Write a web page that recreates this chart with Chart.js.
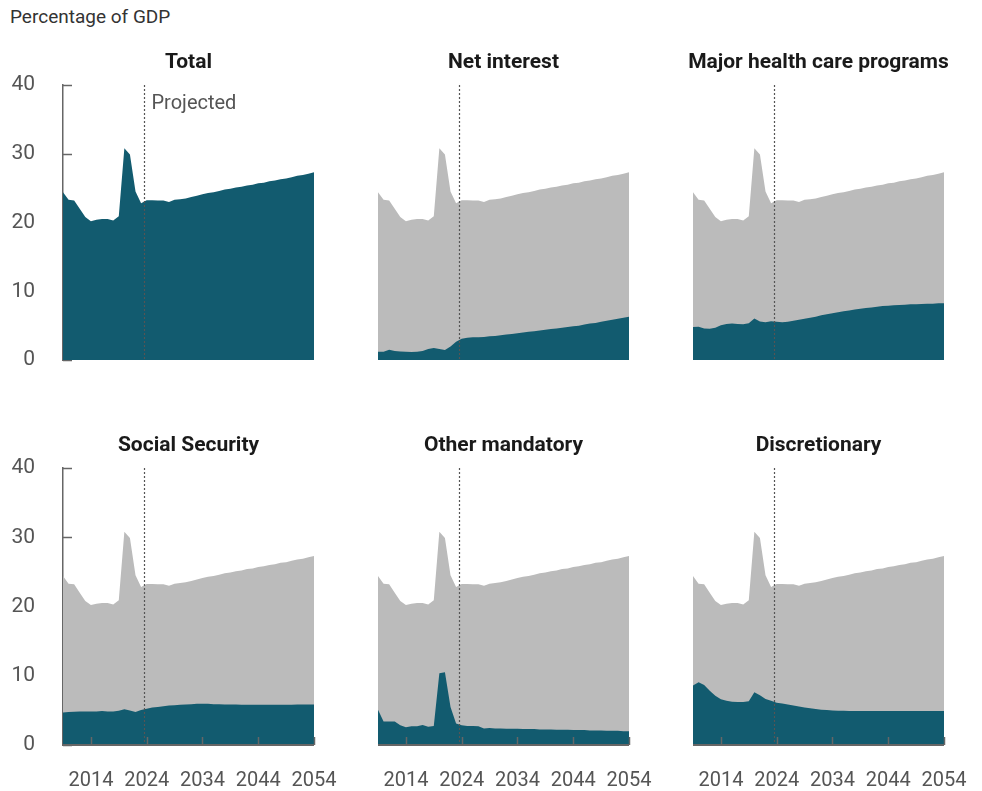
<!DOCTYPE html>
<html>
<head>
<meta charset="utf-8">
<script src="https://cdn.jsdelivr.net/npm/chart.js@4.4.1/dist/chart.umd.min.js"></script>
<style>
  html, body { margin: 0; padding: 0; background: #fff; }
  body { width: 982px; height: 791px; position: relative; overflow: hidden; }
  #unit { position: absolute; left: 10px; top: 5px; font: 19px Roboto, sans-serif; color: #333; }
  canvas { position: absolute; }
</style>
</head>
<body>
<div id="unit">Percentage of GDP</div>
<canvas id="c1"></canvas>
<canvas id="c2"></canvas>
<canvas id="c3"></canvas>
<canvas id="c4"></canvas>
<canvas id="c5"></canvas>
<canvas id="c6"></canvas>
<script>
// ----- data: outlays, percentage of GDP, 2009-2054 -----
const years = [2009, 2010, 2011, 2012, 2013, 2014, 2015, 2016, 2017, 2018,
  2019, 2020, 2021, 2022, 2023, 2024, 2025, 2026, 2027, 2028,
  2029, 2030, 2031, 2032, 2033, 2034, 2035, 2036, 2037, 2038,
  2039, 2040, 2041, 2042, 2043, 2044, 2045, 2046, 2047, 2048,
  2049, 2050, 2051, 2052, 2053, 2054];

const total = [24.4, 23.3, 23.2, 22.0, 20.8, 20.2, 20.4, 20.5, 20.5, 20.3,
  20.9, 30.8, 29.9, 24.5, 22.8, 23.25, 23.25, 23.2, 23.2, 23.0,
  23.3, 23.4, 23.5, 23.7, 23.9, 24.1, 24.3, 24.4, 24.6, 24.8,
  24.9, 25.1, 25.2, 25.4, 25.5, 25.7, 25.8, 26.0, 26.1, 26.3,
  26.4, 26.6, 26.8, 26.9, 27.1, 27.3];

const netInterest = [1.2, 1.2, 1.5, 1.3, 1.25, 1.2, 1.15, 1.2, 1.3, 1.6,
  1.75, 1.6, 1.45, 1.95, 2.65, 3.1, 3.25, 3.3, 3.3, 3.35,
  3.45, 3.5, 3.6, 3.7, 3.8, 3.9, 4.0, 4.1, 4.2, 4.3,
  4.4, 4.5, 4.6, 4.7, 4.8, 4.9, 5.0, 5.15, 5.3, 5.4,
  5.55, 5.7, 5.85, 6.0, 6.15, 6.3];

const healthCare = [4.8, 4.85, 4.6, 4.55, 4.7, 5.05, 5.25, 5.3, 5.25, 5.2,
  5.35, 6.05, 5.6, 5.5, 5.65, 5.55, 5.5, 5.55, 5.7, 5.85,
  6.0, 6.15, 6.3, 6.5, 6.65, 6.8, 6.95, 7.1, 7.2, 7.35,
  7.45, 7.55, 7.65, 7.75, 7.85, 7.9, 7.95, 8.0, 8.05, 8.1,
  8.1, 8.15, 8.2, 8.2, 8.25, 8.25];

const socialSecurity = [4.7, 4.75, 4.8, 4.85, 4.85, 4.85, 4.85, 4.9, 4.85, 4.85,
  4.95, 5.15, 5.0, 4.75, 5.05, 5.25, 5.4, 5.5, 5.6, 5.7,
  5.75, 5.8, 5.85, 5.9, 5.95, 5.95, 5.95, 5.9, 5.9, 5.85,
  5.85, 5.85, 5.8, 5.8, 5.8, 5.8, 5.8, 5.8, 5.8, 5.8,
  5.8, 5.8, 5.85, 5.85, 5.85, 5.85];

const otherMandatory = [5.1, 3.4, 3.4, 3.4, 2.85, 2.55, 2.7, 2.7, 2.9, 2.65,
  2.75, 10.35, 10.5, 5.5, 3.1, 2.85, 2.75, 2.75, 2.7, 2.4,
  2.45, 2.4, 2.4, 2.35, 2.35, 2.35, 2.3, 2.3, 2.3, 2.25,
  2.25, 2.25, 2.2, 2.2, 2.2, 2.15, 2.15, 2.15, 2.1, 2.1,
  2.1, 2.05, 2.05, 2.05, 2.0, 2.0];

const discretionary = [8.6, 9.05, 8.65, 7.85, 7.1, 6.6, 6.4, 6.25, 6.2, 6.2,
  6.3, 7.6, 7.2, 6.65, 6.4, 6.1, 6.0, 5.85, 5.7, 5.55,
  5.4, 5.3, 5.2, 5.1, 5.05, 5.0, 4.95, 4.95, 4.9, 4.9,
  4.9, 4.9, 4.9, 4.9, 4.9, 4.9, 4.9, 4.9, 4.9, 4.9,
  4.9, 4.9, 4.9, 4.9, 4.9, 4.9];

const xTicks = [2014, 2024, 2034, 2044, 2054];
const yTicks = [0, 10, 20, 30, 40];
const projectedStart = 2023.5;

const TEAL = '#125b6f';
const GREY = '#bbbbbb';
const AXIS = '#666666';
const FONT = 'Roboto, sans-serif';

const toPoints = vals => vals.map((v, i) => ({ x: years[i], y: v }));

// canvas margins round the plot area
const AXIS_W = 60, PAD_TOP = 50, PAD_RIGHT = 32, X_H = 50;

function makePanel(id, title, comp, pos) {
  const cv = document.getElementById(id);
  const w = AXIS_W + pos.w + PAD_RIGHT;
  const h = PAD_TOP + pos.h + X_H;
  cv.style.left = (pos.x - AXIS_W) + 'px';
  cv.style.top = (pos.y - PAD_TOP) + 'px';
  cv.width = w; cv.height = h;
  cv.style.width = w + 'px'; cv.style.height = h + 'px';

  const datasets = [];
  if (comp) {
    datasets.push({ data: toPoints(comp), backgroundColor: TEAL, fill: 'origin' });
    datasets.push({ data: toPoints(total), backgroundColor: GREY, fill: 'origin' });
  } else {
    datasets.push({ data: toPoints(total), backgroundColor: TEAL, fill: 'origin' });
  }
  datasets.forEach(d => { d.borderWidth = 0; d.pointRadius = 0; d.tension = 0; });

  const decor = {
    id: 'decor',
    beforeDatasetsDraw(chart) {
      if (!pos.yAxis) return;
      const { ctx, chartArea: a, scales: { y } } = chart;
      ctx.save();
      ctx.strokeStyle = AXIS; ctx.lineWidth = 1.5;
      yTicks.forEach(t => {
        const py = Math.round(y.getPixelForValue(t)) + 0.5;
        ctx.beginPath(); ctx.moveTo(a.left, py); ctx.lineTo(a.left + 9, py); ctx.stroke();
      });
      ctx.restore();
    },
    afterDatasetsDraw(chart) {
      const { ctx, chartArea: a, scales: { x } } = chart;
      ctx.save();
      // projection divider
      const px = Math.round(x.getPixelForValue(projectedStart)) + 0.5;
      ctx.strokeStyle = '#555'; ctx.lineWidth = 1.2; ctx.setLineDash([2, 2]);
      ctx.beginPath(); ctx.moveTo(px, a.top); ctx.lineTo(px, a.bottom); ctx.stroke();
      ctx.setLineDash([]);
      if (pos.xAxis) {
        ctx.strokeStyle = AXIS; ctx.lineWidth = 2;
        ctx.beginPath(); ctx.moveTo(a.left, a.bottom); ctx.lineTo(a.right, a.bottom); ctx.stroke();
        ctx.lineWidth = 1.5;
        xTicks.forEach(t => {
          const tx = Math.round(x.getPixelForValue(t)) + 0.5;
          ctx.beginPath(); ctx.moveTo(tx, a.bottom); ctx.lineTo(tx, a.bottom - 8); ctx.stroke();
        });
      }
      // panel title
      ctx.fillStyle = '#1a1a1a';
      ctx.font = 'bold 21px ' + FONT;
      ctx.textAlign = 'center'; ctx.textBaseline = 'middle';
      ctx.fillText(title, (a.left + a.right) / 2, a.top - 22);
      if (pos.label) {
        ctx.fillStyle = '#555';
        ctx.font = '20px ' + FONT;
        ctx.textAlign = 'left';
        ctx.fillText('Projected', px + 7, a.top + 19);
      }
      ctx.restore();
    }
  };

  return new Chart(cv, {
    type: 'line',
    data: { datasets },
    options: {
      responsive: false,
      animation: false,
      events: [],
      layout: { padding: { top: PAD_TOP, right: PAD_RIGHT, left: 0, bottom: 0 } },
      plugins: { legend: { display: false }, tooltip: { enabled: false } },
      scales: {
        x: {
          type: 'linear', min: years[0], max: years[years.length - 1],
          afterBuildTicks: s => { s.ticks = xTicks.map(v => ({ value: v })); },
          afterFit: s => { s.height = X_H; s.paddingLeft = 0; s.paddingRight = 0; },
          grid: { display: false, drawTicks: false },
          border: { display: false },
          ticks: {
            display: !!pos.xAxis, autoSkip: false, maxRotation: 0, padding: 24,
            color: '#555', font: { family: FONT, size: 20 },
            callback: v => String(v)
          }
        },
        y: {
          min: 0, max: 40,
          afterBuildTicks: s => { s.ticks = yTicks.map(v => ({ value: v })); },
          afterFit: s => { s.width = AXIS_W; s.paddingTop = 0; s.paddingBottom = 0; },
          grid: { display: false, drawTicks: false },
          border: { display: !!pos.yAxis, color: AXIS, width: 1.5 },
          ticks: {
            display: !!pos.yAxis, padding: 28,
            color: '#555', font: { family: FONT, size: 21 }
          }
        }
      }
    },
    plugins: [decor]
  });
}

const colX = [63, 378, 693];
const rowY = [85, 468];
const plotW = 251;
const rowH = [275, 277];

makePanel('c1', 'Total', null,
  { x: colX[0], y: rowY[0], w: plotW, h: rowH[0], yAxis: true, label: true });
makePanel('c2', 'Net interest', netInterest,
  { x: colX[1], y: rowY[0], w: plotW, h: rowH[0] });
makePanel('c3', 'Major health care programs', healthCare,
  { x: colX[2], y: rowY[0], w: plotW, h: rowH[0] });
makePanel('c4', 'Social Security', socialSecurity,
  { x: colX[0], y: rowY[1], w: plotW, h: rowH[1], yAxis: true, xAxis: true });
makePanel('c5', 'Other mandatory', otherMandatory,
  { x: colX[1], y: rowY[1], w: plotW, h: rowH[1], xAxis: true });
makePanel('c6', 'Discretionary', discretionary,
  { x: colX[2], y: rowY[1], w: plotW, h: rowH[1], xAxis: true });
</script>
</body>
</html>
